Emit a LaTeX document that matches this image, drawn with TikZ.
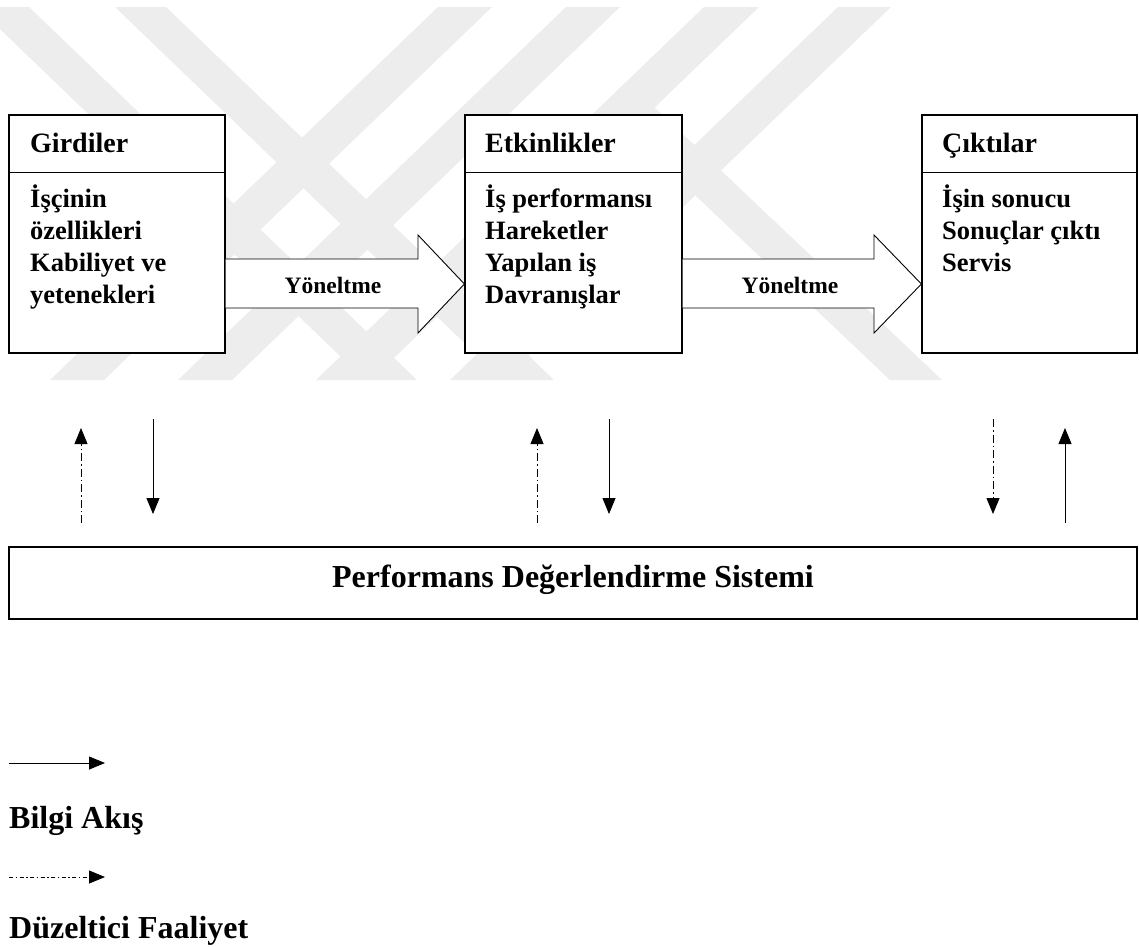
\documentclass[tikz,border=0pt]{standalone}
\usepackage{fontspec}
\setmainfont{Liberation Serif}
\usetikzlibrary{arrows.meta,calc}
\definecolor{wm}{RGB}{237,237,237}
\newcommand\mylines[1]{\begin{tabular}[t]{@{}l@{}}#1\end{tabular}}
\begin{document}
\begin{tikzpicture}[x=1pt,y=-1pt,
  box/.style={draw, fill=white, line width=1.2pt, inner sep=0pt},
  ttl/.style={anchor=base west, inner sep=0pt, font=\bfseries\fontsize{28}{32}\selectfont},
  body/.style={anchor=base west, inner sep=0pt, font=\bfseries\fontsize{26.5}{32}\selectfont},
  lbl/.style={anchor=base, inner sep=0pt, font=\bfseries\fontsize{23.5}{28}\selectfont},
  big/.style={anchor=base, inner sep=0pt, font=\bfseries\fontsize{32}{38}\selectfont},
  leg/.style={anchor=base west, inner sep=0pt, font=\bfseries\fontsize{32}{38}\selectfont},
  flow/.style={-{Triangle[length=16pt,width=13pt]}, line width=0.8pt},
  corr/.style={flow, dash pattern=on 8pt off 3pt on 1.5pt off 3pt},
  blockarrow/.style={draw, fill=white, line width=0.9pt}]
\useasboundingbox (0,0) rectangle (1139,946);
\fill[white] (0,0) rectangle (1139,946);
% watermark
\begin{scope}
  \clip (0,7) rectangle (1139,380);
  \fill[wm] (-23,7) -- (29,7) -- ++(388,373) -- ++(-52,0) -- cycle;
  \fill[wm] (115,7) -- (166,7) -- ++(388,373) -- ++(-51,0) -- cycle;
  \fill[wm] (438,7) -- (492,7) -- ++(-388,373) -- ++(-54,0) -- cycle;
  \fill[wm] (566,7) -- (620,7) -- ++(-388,373) -- ++(-54,0) -- cycle;
  \fill[wm] (704,7) -- (759,7) -- ++(-388,373) -- ++(-55,0) -- cycle;
  \fill[wm] (838,7) -- (891,7) -- ++(-388,373) -- ++(-53,0) -- cycle;
  \fill[wm] (601,106) -- (653,106) -- ++(289,274) -- ++(-52,0) -- cycle;
\end{scope}
% boxes
\node[box, minimum width=216pt, minimum height=238pt] (g) at (117,234) {};
\node[box, minimum width=217pt, minimum height=238pt] (e) at (573.5,234) {};
\node[box, minimum width=215pt, minimum height=238pt] (c) at (1029.5,234) {};
\foreach \b in {g,e,c}
  \draw[line width=1.2pt] ($(\b.north west)+(0,58)$) -- ($(\b.north east)+(0,58)$);
\node[ttl] (gt) at (30,152) {Girdiler};
\node[ttl] (et) at (485,152) {Etkinlikler};
\node[ttl] (ct) at (942,152) {Çıktılar};
\node[body] (gb) at (30,207) {\mylines{İşçinin\\özellikleri\\Kabiliyet ve\\yetenekleri}};
\node[body] (eb) at (485,207) {\mylines{İş performansı\\Hareketler\\Yapılan iş\\Davranışlar}};
\node[body] (cb) at (942,207) {\mylines{İşin sonucu\\Sonuçlar çıktı\\Servis}};
% block arrows
\draw[blockarrow] (g.east |- 0,259) -- (418,259) -- (418,235) -- (e.west |- 0,284)
  -- (418,333) -- (418,308) -- (g.east |- 0,308);
\draw[blockarrow] (e.east |- 0,259) -- (874,259) -- (874,235) -- (c.west |- 0,284)
  -- (874,333) -- (874,308) -- (e.east |- 0,308);
\node[lbl] (y1) at (333,293) {Yöneltme};
\node[lbl] (y2) at (790,293) {Yöneltme};
% system box
\node[box, minimum width=1128pt, minimum height=72pt] (p) at (573,583) {};
\node[big] (pt) at (573,587) {Performans Değerlendirme Sistemi};
% vertical arrows
\coordinate (u1a) at (81,523);  \coordinate (u1b) at (81,428);
\coordinate (d1a) at (153,419); \coordinate (d1b) at (153,514);
\coordinate (u2a) at (537,523); \coordinate (u2b) at (537,428);
\coordinate (d2a) at (609,419); \coordinate (d2b) at (609,514);
\coordinate (d3a) at (993,419); \coordinate (d3b) at (993,514);
\coordinate (u3a) at (1065,523); \coordinate (u3b) at (1065,428);
\draw[corr] (u1a) -- (u1b);
\draw[flow] (d1a) -- (d1b);
\draw[corr] (u2a) -- (u2b);
\draw[flow] (d2a) -- (d2b);
\draw[corr] (d3a) -- (d3b);
\draw[flow] (u3a) -- (u3b);
% legend
\coordinate (l1a) at (9,763); \coordinate (l1b) at (105,763);
\coordinate (l2a) at (9,877); \coordinate (l2b) at (105,877);
\draw[flow] (l1a) -- (l1b);
\node[leg] (lt1) at (9,828) {Bilgi Akış};
\draw[flow, dash pattern=on 4pt off 2.5pt on 1.5pt off 2.5pt] (l2a) -- (l2b);
\node[leg] (lt2) at (9,938) {Düzeltici Faaliyet};
\end{tikzpicture}
\end{document}
